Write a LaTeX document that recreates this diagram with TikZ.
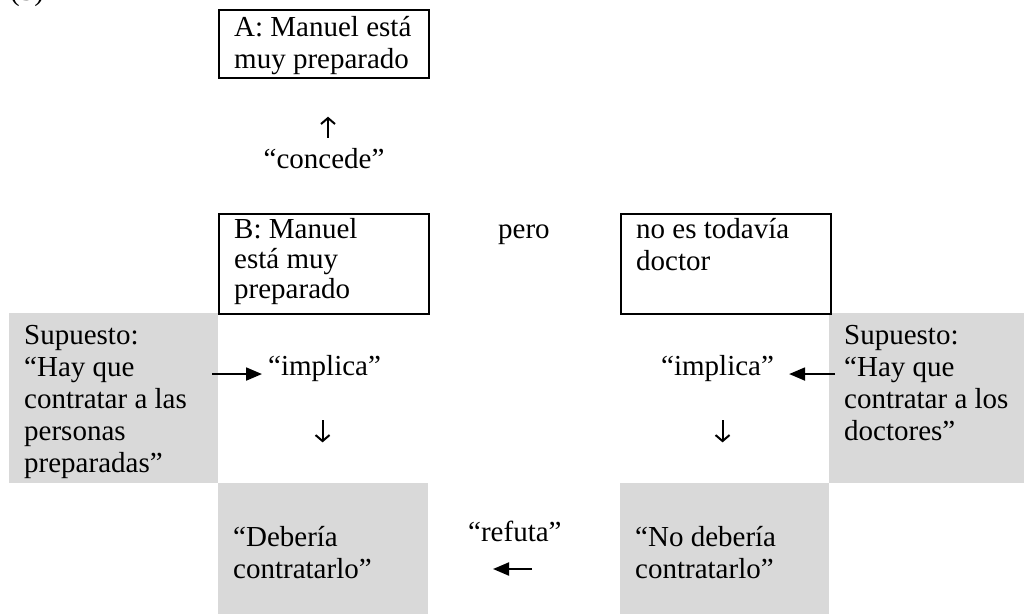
\documentclass[tikz,border=0pt]{standalone}
\usepackage{fontspec}
\setmainfont{Liberation Serif}
\usetikzlibrary{arrows.meta}
\definecolor{cellgray}{HTML}{D9D9D9}

\begin{document}
\begin{tikzpicture}[x=1pt, y=-1pt,
    every node/.style={inner sep=0pt, font=\fontsize{29pt}{32pt}\selectfont},
    frame/.style={draw, line width=2pt, anchor=north west},
    shade/.style={fill=cellgray, anchor=north west},
    txt/.style={anchor=base west, align=left},
    harrow/.style={line width=2pt, -{Triangle[length=16pt, width=13pt]}},
    varrow/.style={line width=2pt, -{Straight Barb[length=6pt, width=14pt]}}]
      \useasboundingbox (0,0) rectangle (1024,614);

      % gray cells
      \node[shade, minimum width=209pt, minimum height=170pt] (supL) at (9,313) {};
      \node[shade, minimum width=195pt, minimum height=170pt] (supR) at (829,313) {};
      \node[shade, minimum width=210pt, minimum height=131pt] (deb) at (218,483) {};
      \node[shade, minimum width=209pt, minimum height=131pt] (nodeb) at (620,483) {};

      % framed boxes
      \node[frame, minimum width=210pt, minimum height=68pt] (A) at (218,9) {};
      \node[frame, minimum width=210pt, minimum height=100pt] (B) at (218,213) {};
      \node[frame, minimum width=210pt, minimum height=100pt] (doc) at (620,213) {};

      % texts (base = last line)
      \node[txt] (num) at (10,0) {(3)};
      \node[txt] (Atxt) at (234,68) {A: Manuel está\\muy preparado};
      \node[anchor=base] (concede) at (324,168) {“concede”};
      \node[txt] (Btxt) at (234,298) {B: Manuel\\[-2pt]está muy\\[-2pt]preparado};
      \node[txt] (pero) at (498,238) {pero};
      \node[txt] (doctxt) at (636,270) {no es todavía\\doctor};
      \node[txt] (supLtxt) at (24,472) {Supuesto:\\“Hay que\\contratar a las\\personas\\preparadas”};
      \node[txt] (supRtxt) at (844,440) {Supuesto:\\“Hay que\\contratar a los\\doctores”};
      \node[txt] (implL) at (268,375) {“implica”};
      \node[txt] (implR) at (661,375) {“implica”};
      \node[txt] (debtxt) at (233,578) {“Debería\\contratarlo”};
      \node[txt] (refuta) at (468,541) {“refuta”};
      \node[txt] (nodebtxt) at (635,578) {“No debería\\contratarlo”};

      \coordinate (refS) at (532,569);

      \draw[varrow] ([xshift=4pt, yshift=10pt]concede.north) -- ++(0,-21);
      \draw[varrow] ([xshift=-2pt, yshift=-39pt]implL.south) -- ++(0,22);
      \draw[varrow] ([xshift=5pt, yshift=-39pt]implR.south) -- ++(0,22);
      \draw[harrow] ([xshift=-6pt, yshift=-6pt]implL.west -| supL.east) -- ([xshift=-6pt, yshift=-6pt]implL.west);
      \draw[harrow] ([xshift=6pt, yshift=-6pt]implR.east -| supR.west) -- ([xshift=15pt, yshift=-6pt]implR.east);
      \draw[harrow] (refS) -- ++(-39,0);
\end{tikzpicture}
\end{document}
